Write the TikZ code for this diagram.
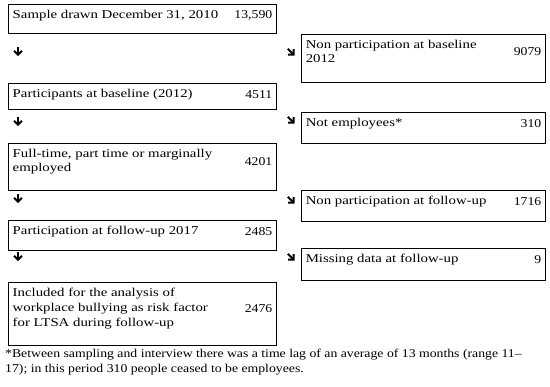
\documentclass[tikz,border=0pt]{standalone}
\usepackage{fontspec}
\setmainfont{Liberation Serif}
\newfontfamily\boxfont{Liberation Serif}[FakeStretch=1.24,Ligatures=TeX]
\newfontfamily\notefont{Liberation Serif}[FakeStretch=1.15,Ligatures=TeX]
\usetikzlibrary{positioning,calc}
\tikzset{
  box/.style={draw=black,line width=0.9bp,minimum width=#1,inner sep=0pt},
  box/.default=268bp,
  txt/.style={font=\boxfont\fontsize{12}{15}\selectfont,align=left,inner sep=0pt,anchor=north west},
  num/.style={font=\notefont\fontsize{12}{15}\selectfont,inner sep=0pt,anchor=east},
  note/.style={font=\notefont\fontsize{12}{15}\selectfont,align=left,inner sep=0pt,anchor=north west},
  % pictograms
  pics/downarr/.style={code={
    \draw[line width=1.9bp] (0,4.5) -- (0,-3.2);
    \draw[line width=1.9bp] (-3.9,0.2) -- (0,-3.8) -- (3.9,0.2);
  }},
}
\begin{document}
\begin{tikzpicture}[x=1bp,y=1bp]
  \useasboundingbox (0,0) rectangle (550,-386);
  % left column
  \node[box,minimum height=29bp] (b1) at (142,-18.5) {};
  \node[txt] (b1t) at ([shift={(5,-6)}]b1.north west) {Sample drawn December 31, 2010};
  \node[num,xshift=-4bp] (b1n) at (b1.east |- b1t.center) {13,590};
  \node[box,minimum height=26bp] (b2) at (142,-96) {};
  \node[txt] (b2t) at ([shift={(5,-6)}]b2.north west) {Participants at baseline (2012)};
  \node[num,xshift=-4bp] (b2n) at (b2.east |- b2t.center) {4511};
  \node[box,minimum height=47bp] (b3) at (142,-166.5) {};
  \node[txt] (b3t) at ([shift={(5,-6)}]b3.north west) {Full-time, part time or marginally\\employed};
  \node[num,xshift=-4bp] (b3n) at (b3.east |- b3t.center) {4201};
  \node[box,minimum height=30bp] (b4) at (142,-235) {};
  \node[txt] (b4t) at ([shift={(5,-6)}]b4.north west) {Participation at follow-up 2017};
  \node[num,xshift=-4bp] (b4n) at (b4.east |- b4t.center) {2485};
  \node[box,minimum height=63bp] (b5) at (142,-313.5) {};
  \node[txt] (b5t) at ([shift={(5,-6)}]b5.north west) {Included for the analysis of\\workplace bullying as risk factor\\for LTSA during follow-up};
  \node[num,xshift=-4bp] (b5n) at (b5.east |- b5t.center) {2476};
  % right column
  \node[box=244bp,minimum height=48bp] (r1) at (423,-58) {};
  \node[txt] (r1t) at ([shift={(5,-6)}]r1.north west) {Non participation at baseline\\2012};
  \node[num,xshift=-4bp] (r1n) at (r1.east |- r1t.center) {9079};
  \node[box=244bp,minimum height=31bp] (r2) at (423,-127.5) {};
  \node[txt] (r2t) at ([shift={(5,-6)}]r2.north west) {Not employees*};
  \node[num,xshift=-4bp] (r2n) at (r2.east |- r2t.center) {310};
  \node[box=244bp,minimum height=31bp] (r3) at (423,-205.5) {};
  \node[txt] (r3t) at ([shift={(5,-6)}]r3.north west) {Non participation at follow-up};
  \node[num,xshift=-4bp] (r3n) at (r3.east |- r3t.center) {1716};
  \node[box=244bp,minimum height=32bp] (r4) at (423,-264) {};
  \node[txt] (r4t) at ([shift={(5,-6)}]r4.north west) {Missing data at follow-up};
  \node[num,xshift=-4bp] (r4n) at (r4.east |- r4t.center) {9};
  % arrows
  \foreach \y in {-51,-121,-198,-256} \pic at (18,\y) {downarr};
  \foreach \y in {-52,-120,-200,-257} \pic[rotate=45] at (291,\y) {downarr};
  \node[note] (fn) at (5,-349) {*Between sampling and interview there was a time lag of an average of 13 months (range 11--\\17); in this period 310 people ceased to be employees.};
\end{tikzpicture}
\end{document}
